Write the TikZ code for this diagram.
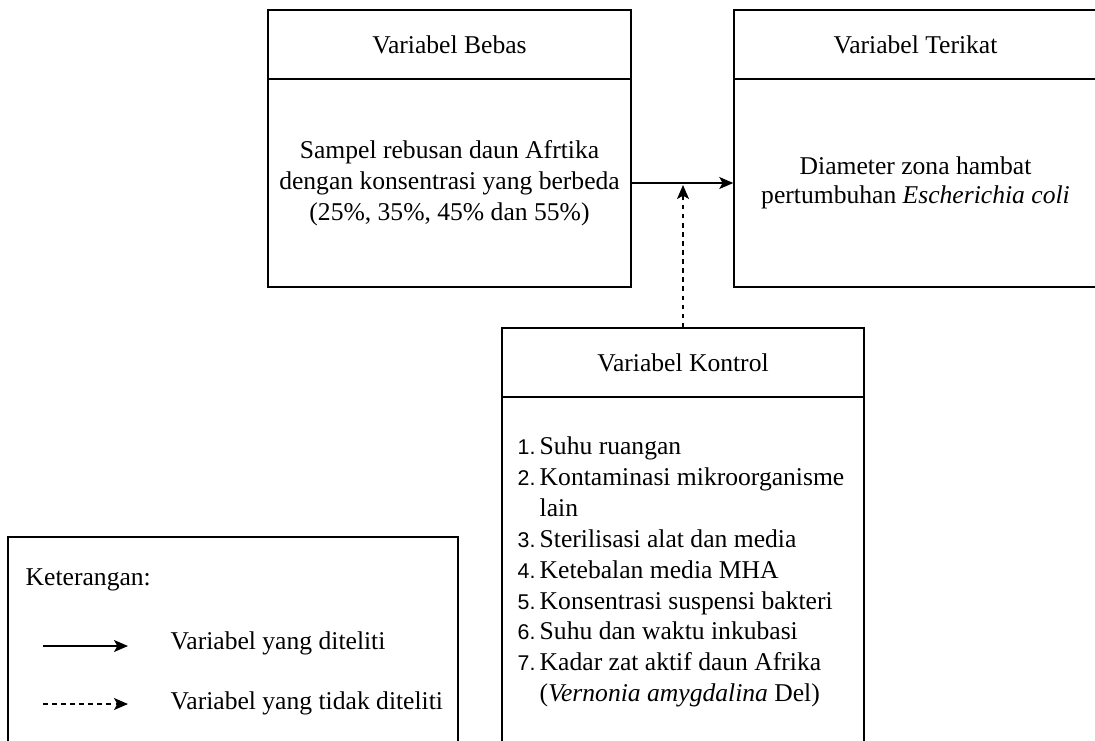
\documentclass[tikz,border=0pt]{standalone}
\usepackage{fontspec}
\setmainfont{Liberation Serif}
\newfontfamily\numfont{Liberation Sans}
\usetikzlibrary{arrows.meta}

\tikzset{every picture/.style={line width=1.1pt}}
\tikzset{
  teks/.style={font=\fontsize{19.2}{23.2}\selectfont, inner sep=0pt},
  varhead/.style={teks, draw, minimum width=272.25pt, minimum height=51.75pt},
  varbody/.style={teks, draw, minimum width=272.25pt, minimum height=156pt, align=center},
  panah/.style={-{Stealth[length=10.5pt,width=9pt,inset=2.5pt]}},
  putus/.style={panah, dash pattern=on 3.4pt off 3.4pt},
}
\newcommand{\nomor}[1]{\makebox[16.5pt][l]{\numfont\fontsize{16}{23}\selectfont #1}}

\begin{document}
\begin{tikzpicture}[x=0.75pt,y=0.75pt,yscale=-1,xscale=1]
	\useasboundingbox (0,0) rectangle (1095,740); %set diagram size 1095 x 740
	\clip (0,0) rectangle (1095,740);

	%Variabel Bebas
	\node[varhead] (bebashead) at (449.5,44.5) {Variabel Bebas};
	\node[varbody] (bebas) at (449.5,183) {Sampel rebusan daun Afrtika\\ dengan konsentrasi yang berbeda\\ (25\%, 35\%, 45\% dan 55\%)};

	%Variabel Terikat
	\node[varhead] (terikathead) at (915.5,44.5) {Variabel Terikat};
	\node[varbody] (terikat) at (915.5,183) {\raisebox{-2pt}{Diameter zona hambat}\\[1pt] pertumbuhan \textit{Escherichia coli}};

	%Variabel Kontrol
	\node[varhead, minimum width=271.5pt] (kontrolhead) at (683,362.5) {Variabel Kontrol};
	\node[varbody, minimum width=271.5pt, minimum height=302.25pt] (kontrol) at (683,598.5) {};
	\node[teks, anchor=west, align=left] (daftar) at (517,572) {\nomor{1.}Suhu ruangan\\
		\nomor{2.}Kontaminasi mikroorganisme\\
		\hspace*{16.5pt}lain\\
		\nomor{3.}Sterilisasi alat dan media\\
		\nomor{4.}Ketebalan media MHA\\
		\nomor{5.}Konsentrasi suspensi bakteri\\
		\nomor{6.}Suhu dan waktu inkubasi\\
		\nomor{7.}Kadar zat aktif daun Afrika\\
		\hspace*{16.5pt}(\textit{Vernonia amygdalina} Del)};

	%Straight Lines
	\coordinate (temu) at (683,185);
	\draw[panah] (bebas.east) -- (terikat.west);
	\draw[putus] (kontrolhead.north) -- (temu);

	%Keterangan
	\node[draw, minimum width=337.5pt, minimum height=197.25pt, inner sep=0pt] (ket) at (233,668.5) {};
	\node[teks, anchor=west] (ketjudul) at (25,580) {Keterangan:};
	\coordinate (a1) at (43,646);
	\coordinate (b1) at (128,646);
	\coordinate (a2) at (43,704);
	\coordinate (b2) at (128,704);
	\draw[panah] (a1) -- (b1);
	\draw[putus] (a2) -- (b2);
	\node[teks, anchor=west] (ket1) at (170,643) {Variabel yang diteliti};
	\node[teks, anchor=west] (ket2) at (170,703) {Variabel yang tidak diteliti};

\end{tikzpicture}
\end{document}
